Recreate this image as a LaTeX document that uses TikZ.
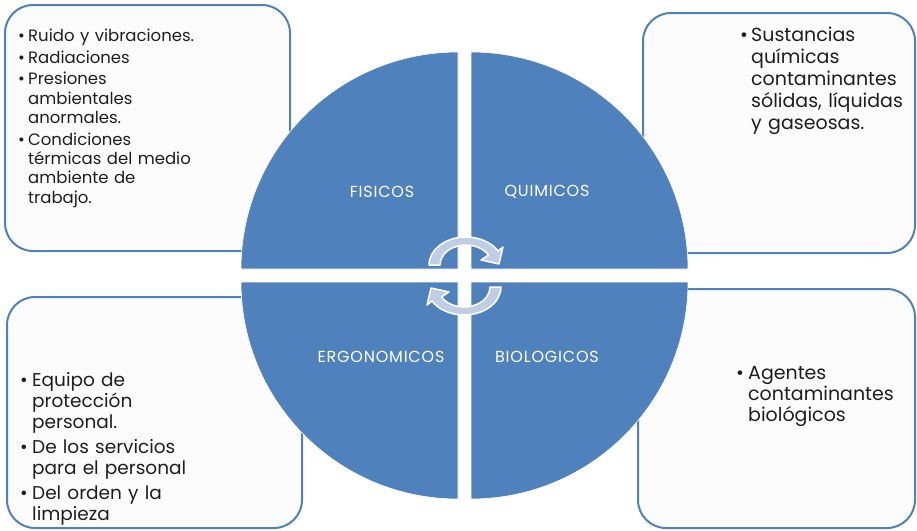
\documentclass[tikz,border=0pt]{standalone}
\usepackage{fontspec}
\setmainfont{Poppins}
\definecolor{qblue}{HTML}{4F81BD}
\definecolor{boxfill}{HTML}{FCFCFC}
\definecolor{arrowfill}{RGB}{192,206,229}
\definecolor{txt}{HTML}{1E1E1E}
\newlength{\bind}
\newlength{\isep}
\newcommand{\bitem}[1]{\par\noindent\hangindent=\bind\hangafter=1\makebox[\bind][l]{\textbullet}#1\par\vspace{\isep}}
\begin{document}
\begin{tikzpicture}[x=1pt,y=-1pt,
  infobox/.style={draw=qblue,line width=2pt,fill=boxfill,rounded corners=28pt},
  quad/.style={fill=qblue,draw=white,line width=0.6pt},
  qlabel/.style={text=white,font=\fontsize{16}{18}\selectfont\addfontfeature{LetterSpace=5},inner sep=0pt},
  boxtext/.style={anchor=base west,inner sep=0pt,text=txt},
  cyc/.style={fill=arrowfill,draw=white,line width=1.5pt,line join=round}
]
\useasboundingbox (0,0) rectangle (917,530);
\fill[white] (0,0) rectangle (917,530);
% boxes
\draw[infobox] (5,5) rectangle (290,251) coordinate (tlbox);
\draw[infobox] (643,13) rectangle (915,253) coordinate (trbox);
\draw[infobox] (7,297) rectangle (302,528) coordinate (blbox);
\draw[infobox] (638,289) rectangle (915,528) coordinate (brbox);
% quadrants
\path[quad] (458,269) -- (241,269) arc[start angle=180,end angle=270,radius=217] -- cycle;
\path[quad] (471,269) -- (471,52) arc[start angle=270,end angle=360,radius=217] -- cycle;
\path[quad] (458,282) -- (241,282) arc[start angle=180,end angle=90,radius=217] -- cycle;
\path[quad] (471,282) -- (688,282) arc[start angle=0,end angle=90,radius=217] -- cycle;
\node[qlabel] (fis) at (382,192) {FISICOS};
\node[qlabel] (qui) at (547,192) {QUIMICOS};
\node[qlabel] (erg) at (381,357) {ERGONOMICOS};
\node[qlabel] (bio) at (547,357) {BIOLOGICOS};
% circular arrows
\path[cyc] (429,265) arc[start angle=180,end angle=330,x radius=37,y radius=28]
  -- (503,247) -- (499,264) -- (481,260)
  -- (488.5,255) arc[start angle=330,end angle=180,x radius=26,y radius=20] -- cycle;
\begin{scope}[rotate around={180:(465,276)}]
\path[cyc] (429,265) arc[start angle=180,end angle=330,x radius=37,y radius=28]
  -- (503,247) -- (499,264) -- (481,260)
  -- (488.5,255) arc[start angle=330,end angle=180,x radius=26,y radius=20] -- cycle;
\end{scope}
% texts
\node[boxtext,text width=265pt,font=\fontsize{16.5}{19.4}\selectfont] (tltext) at (18,22) {%
\setlength{\bind}{10pt}\setlength{\isep}{2.2pt}%
\bitem{Ruido y vibraciones.}%
\bitem{Radiaciones}%
\bitem{Presiones\newline ambientales\newline anormales.}%
\bitem{Condiciones\newline térmicas del medio\newline ambiente de\newline trabajo.}};
\node[boxtext,text width=170pt,font=\fontsize{19}{21.8}\selectfont] (trtext) at (740,20) {%
\setlength{\bind}{11pt}\setlength{\isep}{0pt}%
\bitem{Sustancias\newline químicas\newline contaminantes\newline sólidas, líquidas\newline y gaseosas.}};
\node[boxtext,text width=270pt,font=\fontsize{18.5}{20.8}\selectfont] (bltext) at (20,366) {%
\setlength{\bind}{12pt}\setlength{\isep}{4.5pt}%
\bitem{Equipo de\newline protección\newline personal.}%
\bitem{De los servicios\newline para el personal}%
\bitem{Del orden y la\newline limpieza}};
\node[boxtext,text width=175pt,font=\fontsize{19}{21}\selectfont] (brtext) at (736,358) {%
\setlength{\bind}{12pt}\setlength{\isep}{0pt}%
\bitem{Agentes\newline contaminantes\newline biológicos}};
\end{tikzpicture}
\end{document}
